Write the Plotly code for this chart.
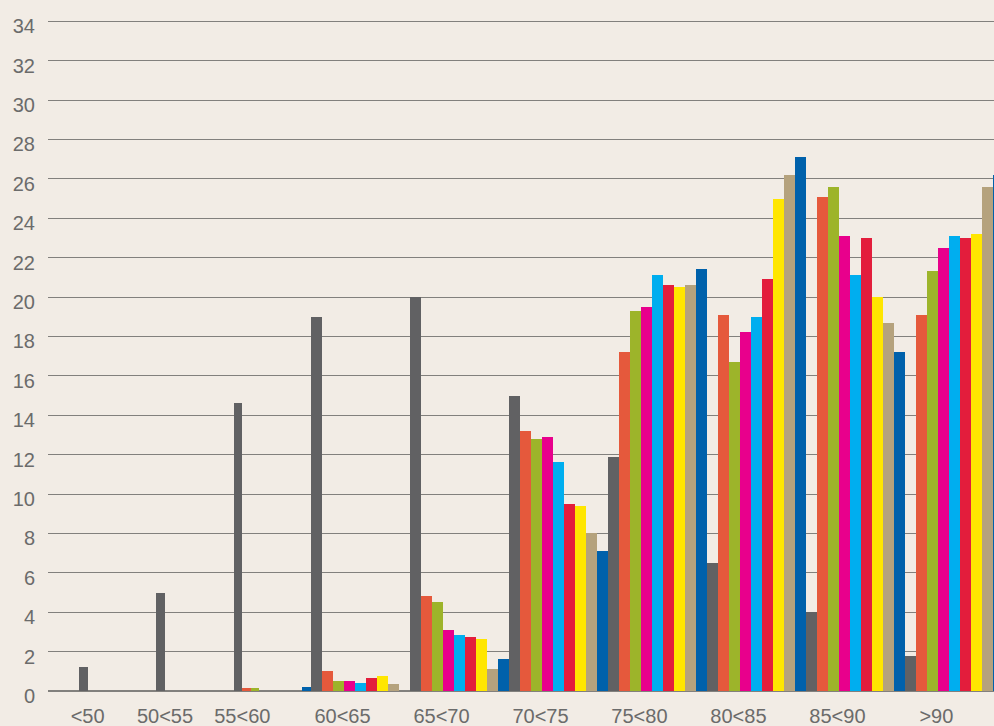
import plotly.graph_objects as go

# age bands
categories = ["<50", "50<55", "55<60", "60<65", "65<70", "70<75", "75<80", "80<85", "85<90", ">90"]

# nine series, values (%)
s1 = [1.2, 5.0, 14.6, 19.0, 20.0, 15.0, 11.9, 6.5, 4.0, 1.8]
s2 = [0, 0, 0.15, 1.0, 4.8, 13.2, 17.2, 19.1, 25.1, 19.1]
s3 = [0, 0, 0.15, 0.5, 4.5, 12.8, 19.3, 16.7, 25.6, 21.3]
s4 = [0, 0, 0, 0.5, 3.1, 12.9, 19.5, 18.2, 23.1, 22.5]
s5 = [0, 0, 0, 0.4, 2.85, 11.6, 21.1, 19.0, 21.1, 23.1]
s6 = [0, 0, 0, 0.65, 2.75, 9.5, 20.6, 20.9, 23.0, 23.0]
s7 = [0, 0, 0, 0.75, 2.65, 9.4, 20.5, 25.0, 20.0, 23.2]
s8 = [0, 0, 0, 0.35, 1.1, 8.0, 20.6, 26.2, 18.7, 25.6]
s9 = [0, 0, 0.2, 0, 1.6, 7.1, 21.4, 27.1, 17.2, 26.2]

series = [s1, s2, s3, s4, s5, s6, s7, s8, s9]
names = ["Series 1", "Series 2", "Series 3", "Series 4", "Series 5",
         "Series 6", "Series 7", "Series 8", "Series 9"]
colors = ["#616163", "#e5593c", "#9db42a", "#e8008c", "#00aeef",
          "#e31d3c", "#ffe600", "#b5a27d", "#0061ab"]

bg = "#f2ece5"
split = 3  # the first three bands are drawn narrower, as in the original

fig = go.Figure()
for name, vals, col in zip(names, series, colors):
    # narrow left part
    fig.add_trace(go.Bar(x=categories[:split], y=vals[:split], name=name,
                         marker=dict(color=col, line=dict(width=0)),
                         xaxis="x", yaxis="y", showlegend=False))
    # wide right part
    fig.add_trace(go.Bar(x=categories[split:], y=vals[split:], name=name,
                         marker=dict(color=col, line=dict(width=0)),
                         xaxis="x2", yaxis="y", showlegend=False))

tick_font = dict(family="Liberation Sans, Arial, sans-serif", size=20, color="#6b6b6b")
left_frac = 263 / 946

fig.update_layout(
    width=994,
    height=726,
    margin=dict(l=48, r=0, t=10, b=35),
    paper_bgcolor=bg,
    plot_bgcolor=bg,
    barmode="group",
    bargap=0,
    bargroupgap=0,
    xaxis=dict(domain=[0, left_frac], range=[-0.9, 2.5], type="category",
               showgrid=False, zeroline=False, showline=False, ticks="",
               tickfont=tick_font, ticklabelstandoff=11, ticklabelshift=-30,
               automargin=False),
    xaxis2=dict(domain=[left_frac, 1], range=[-0.5, 6.4], type="category",
                anchor="y", showgrid=False, zeroline=False, showline=False, ticks="",
                tickfont=tick_font, ticklabelstandoff=11, ticklabelshift=-18,
                automargin=False),
    yaxis=dict(range=[0, 34.57], tickvals=list(range(0, 35, 2)),
               showgrid=True, gridcolor="#82807d", gridwidth=1.3,
               zeroline=True, zerolinecolor="#82807d", zerolinewidth=1.5,
               showline=False, ticks="", tickfont=tick_font,
               ticklabelstandoff=12, ticklabelshift=5, automargin=False),
)

# drop the page margin so the figure fills the window
fig.write_html("out.html",
               config={"displayModeBar": False},
               post_script="document.body.style.margin='0';document.body.style.overflow='hidden';")
